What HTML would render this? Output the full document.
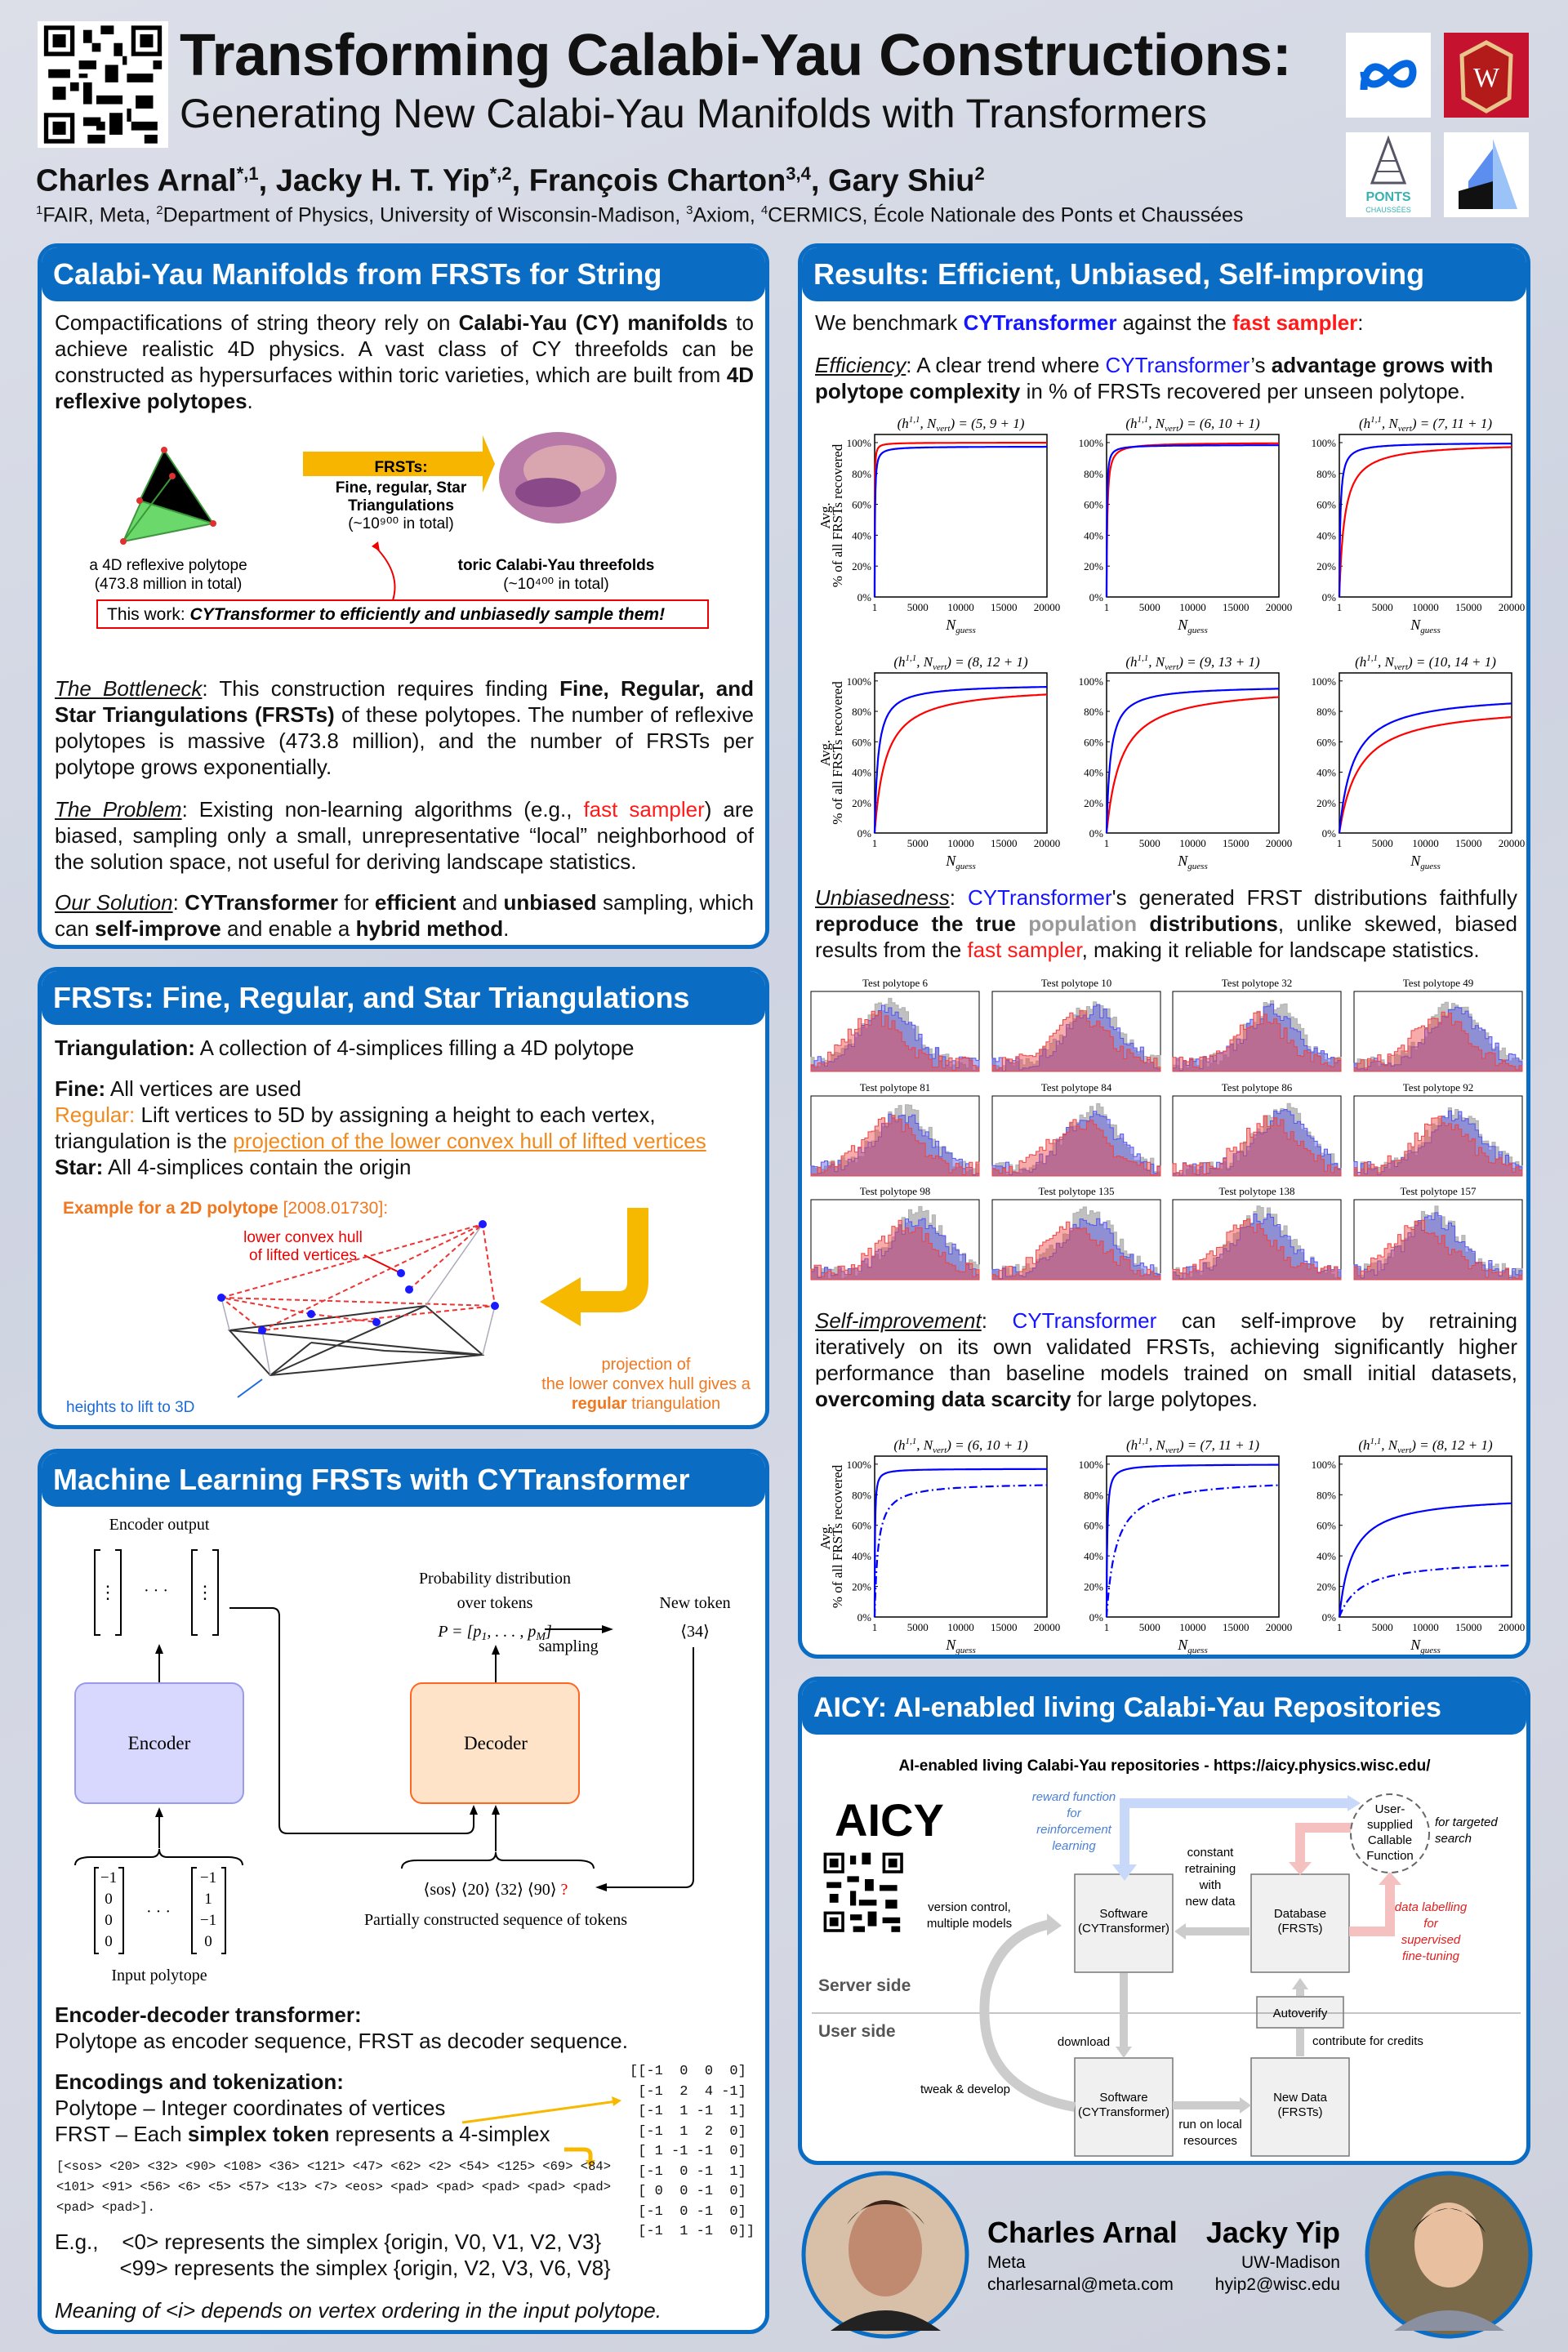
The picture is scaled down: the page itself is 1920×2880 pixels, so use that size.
<!DOCTYPE html>
<html><head><meta charset="utf-8">
<style>
*{margin:0;padding:0;box-sizing:border-box}
body{width:1920px;height:2880px;position:relative;overflow:hidden;background:linear-gradient(160deg,#dcdfe8 0%,#cfd4e2 40%,#d6d9e4 70%,#cdd1dc 100%);font-family:"Liberation Sans",Arial,sans-serif;color:#111}
.a{position:absolute}
.panel{position:absolute;background:#fff;border:5px solid #0a6cc2;border-radius:24px;overflow:hidden}
.hd{position:absolute;left:0;top:0;right:0;background:#0a6cc2;color:#fff;font-weight:bold;font-size:36px;padding-left:14px;border-radius:0 0 18px 18px}
.t{position:absolute;font-size:26px;line-height:32px;text-align:justify}
.blue{color:#1515ff}.red{color:#ff1a1a}.or{color:#f07820}
.mono{font-family:"Liberation Mono",monospace}
u{text-decoration:underline}
</style></head><body>
<!-- Header -->
<div class="a" style="left:46px;top:26px;width:160px;height:155px;background:#fff">
<svg width="160" height="155" viewBox="0 0 29 29"><rect width="29" height="29" fill="#fff"/><g fill="#000"><rect x="1" y="1" width="7" height="7"/><rect x="21" y="1" width="7" height="7"/><rect x="1" y="21" width="7" height="7"/></g><g fill="#fff"><rect x="2" y="2" width="5" height="5"/><rect x="22" y="2" width="5" height="5"/><rect x="2" y="22" width="5" height="5"/></g><g fill="#000"><rect x="3" y="3" width="3" height="3"/><rect x="23" y="3" width="3" height="3"/><rect x="3" y="23" width="3" height="3"/><rect x="10" y="2" width="2" height="3"/><rect x="14" y="1" width="3" height="2"/><rect x="9" y="9" width="4" height="2"/><rect x="15" y="10" width="3" height="4"/><rect x="2" y="11" width="5" height="2"/><rect x="20" y="12" width="6" height="2"/><rect x="10" y="14" width="2" height="5"/><rect x="13" y="17" width="6" height="2"/><rect x="22" y="17" width="4" height="3"/><rect x="10" y="22" width="4" height="2"/><rect x="16" y="21" width="3" height="5"/><rect x="21" y="23" width="6" height="2"/><rect x="11" y="26" width="4" height="2"/><rect x="3" y="15" width="3" height="3"/><rect x="24" y="26" width="3" height="2"/><rect x="12" y="5" width="2" height="2"/><rect x="17" y="5" width="2" height="3"/><rect x="9" y="12" width="2" height="1"/><rect x="19" y="8" width="1" height="2"/><rect x="7" y="14" width="2" height="2"/><rect x="13" y="23" width="2" height="2"/><rect x="20" y="20" width="1" height="3"/><rect x="26" y="9" width="2" height="2"/></g></svg></div>
<div class="a" style="left:220px;top:28px;font-size:72px;font-weight:bold;line-height:80px;letter-spacing:-0.5px">Transforming Calabi-Yau Constructions:</div>
<div class="a" style="left:220px;top:110px;font-size:50px;line-height:58px">Generating New Calabi-Yau Manifolds with Transformers</div>
<div class="a" style="left:44px;top:190px;font-size:38px;font-weight:bold;line-height:46px">Charles Arnal<sup style="font-size:22px">*,1</sup>, Jacky H. T. Yip<sup style="font-size:22px">*,2</sup>, François Charton<sup style="font-size:22px">3,4</sup>, Gary Shiu<sup style="font-size:22px">2</sup></div>
<div class="a" style="left:44px;top:242px;font-size:25px;line-height:32px"><sup style="font-size:15px">1</sup>FAIR, Meta, <sup style="font-size:15px">2</sup>Department of Physics, University of Wisconsin-Madison, <sup style="font-size:15px">3</sup>Axiom, <sup style="font-size:15px">4</sup>CERMICS, École Nationale des Ponts et Chaussées</div>
<div class="a" style="left:1648px;top:40px;width:104px;height:104px;background:#fff"><svg width="104" height="104"><path d="M22 70 C22 40,38 34,52 52 C66 70,82 64,82 48 C82 32,66 36,52 52 C38 70,22 64,22 48" fill="none" stroke="#0668e1" stroke-width="9"/></svg></div>
<div class="a" style="left:1768px;top:40px;width:104px;height:104px;background:#c5122f"><svg width="104" height="104"><path d="M52 12 L82 28 L80 80 L52 96 L24 80 L22 28Z" fill="#b31b1b" stroke="#e8c58a" stroke-width="5"/><text x="52" y="66" font-size="34" font-family="Liberation Serif" fill="#fff" text-anchor="middle">W</text></svg></div>
<div class="a" style="left:1648px;top:162px;width:104px;height:104px;background:#fff"><svg width="104" height="104"><path d="M52 8 L72 62 L32 62Z" fill="none" stroke="#556" stroke-width="3"/><path d="M42 35 L62 35 M37 48 L67 48" stroke="#556" stroke-width="2"/><text x="52" y="84" font-size="16" fill="#3ab0b0" text-anchor="middle" font-weight="bold">PONTS</text><text x="52" y="98" font-size="9" fill="#3ab0b0" text-anchor="middle">CHAUSSÉES</text></svg></div>
<div class="a" style="left:1768px;top:162px;width:104px;height:104px;background:#fff"><svg width="104" height="104"><path d="M60 8 L90 94 L60 94Z" fill="#9cc3f7"/><path d="M30 60 L60 20 L60 94 L30 94Z" fill="#5c8ef0"/><path d="M18 72 L60 60 L60 94 L18 94Z" fill="#111"/></svg></div>

<!-- Left panel 1 -->
<div class="panel" style="left:46px;top:298px;width:896px;height:864px">
<div class="hd" style="height:66px;line-height:66px">Calabi-Yau Manifolds from FRSTs for String</div>
<div class="t" style="left:16px;top:76px;width:856px">Compactifications of string theory rely on <b>Calabi-Yau (CY) manifolds</b> to achieve realistic 4D physics. A vast class of CY threefolds can be constructed as hypersurfaces within toric varieties, which are built from <b>4D reflexive polytopes</b>.</div>
<svg class="a" style="left:0;top:220px" width="890" height="300">
<polygon points="150,28 100,140 210,118 160,60" fill="#5bd45b" stroke="#2a8a2a" stroke-width="2" opacity=".9"/>
<path d="M150 28 L210 118 M160 60 L100 140 M150 28 L120 90 L210 118" stroke="#3a9a3a" stroke-width="2"/>
<g fill="#e03030"><circle cx="150" cy="28" r="4"/><circle cx="100" cy="140" r="4"/><circle cx="210" cy="118" r="4"/><circle cx="160" cy="60" r="4"/><circle cx="120" cy="90" r="4"/></g>
<polygon points="320,30 540,30 540,10 555,45 540,80 540,60 320,60" fill="#f7b500"/>
<text x="440" y="55" font-size="19" font-weight="bold" text-anchor="middle">FRSTs:</text>
<text x="440" y="80" font-size="19" font-weight="bold" text-anchor="middle">Fine, regular, Star</text>
<text x="440" y="102" font-size="19" font-weight="bold" text-anchor="middle">Triangulations</text>
<text x="440" y="124" font-size="19" text-anchor="middle">(~10⁹⁰⁰ in total)</text>
<ellipse cx="632" cy="62" rx="72" ry="56" fill="#b878a8"/><ellipse cx="640" cy="52" rx="50" ry="30" fill="#d9a6b0"/><ellipse cx="620" cy="80" rx="40" ry="18" fill="#8a4a8a"/>
<text x="155" y="175" font-size="19" text-anchor="middle">a 4D reflexive polytope</text>
<text x="155" y="198" font-size="19" text-anchor="middle">(473.8 million in total)</text>
<text x="630" y="175" font-size="19" font-weight="bold" text-anchor="middle">toric Calabi-Yau threefolds</text>
<text x="630" y="198" font-size="19" text-anchor="middle">(~10⁴⁰⁰ in total)</text>
<path d="M430 212 Q440 180 410 148" fill="none" stroke="#e00" stroke-width="2"/><path d="M404 146 L412 140 L414 152Z" fill="#e00"/>
<rect x="68" y="212" width="748" height="34" fill="none" stroke="#e00" stroke-width="2"/>
<text x="80" y="236" font-size="21">This work: <tspan font-weight="bold" font-style="italic">CYTransformer to efficiently and unbiasedly sample them!</tspan></text>
</svg>
<div class="t" style="left:16px;top:524px;width:856px"><i><u>The Bottleneck</u></i>: This construction requires finding <b>Fine, Regular, and Star Triangulations (FRSTs)</b> of these polytopes. The number of reflexive polytopes is massive (473.8 million), and the number of FRSTs per polytope grows exponentially.</div>
<div class="t" style="left:16px;top:672px;width:856px"><i><u>The Problem</u></i>: Existing non-learning algorithms (e.g., <span class="red">fast sampler</span>) are biased, sampling only a small, unrepresentative “local” neighborhood of the solution space, not useful for deriving landscape statistics.</div>
<div class="t" style="left:16px;top:786px;width:856px"><i><u>Our Solution</u></i>: <b>CYTransformer</b> for <b>efficient</b> and <b>unbiased</b> sampling, which can <b>self-improve</b> and enable a <b>hybrid method</b>.</div>
</div>

<!-- Left panel 2 -->
<div class="panel" style="left:46px;top:1184px;width:896px;height:566px">
<div class="hd" style="height:66px;line-height:66px">FRSTs: Fine, Regular, and Star Triangulations</div>
<div class="t" style="left:16px;top:78px;width:860px;text-align:left"><b>Triangulation:</b> A collection of 4-simplices filling a 4D polytope</div>
<div class="t" style="left:16px;top:128px;width:860px;text-align:left"><b>Fine:</b> All vertices are used<br><span style="color:#f08a1c">Regular:</span> Lift vertices to 5D by assigning a height to each vertex, triangulation is the <u style="color:#f08a1c">projection of the lower convex hull of lifted vertices</u><br><b>Star:</b> All 4-simplices contain the origin</div>
<svg class="a" style="left:0;top:270px" width="890" height="290">
<text x="26" y="27" font-size="21" fill="#f07820" font-weight="bold">Example for a 2D polytope <tspan font-weight="normal">[2008.01730]:</tspan></text>
<path d="M730 20 L730 110 Q730 135 705 135 L640 135" fill="none" stroke="#f7b800" stroke-width="26"/><path d="M660 105 L610 135 L660 165Z" fill="#f7b800"/>
<text x="320" y="62" font-size="19" fill="#e00" text-anchor="middle">lower convex hull</text><text x="320" y="84" font-size="19" fill="#e00" text-anchor="middle">of lifted vertices</text>
<path d="M395 78 L440 100" stroke="#e00" stroke-width="2"/>
<g stroke="#333" stroke-width="2" fill="none"><path d="M230 170 L470 140 L540 200 L280 225Z"/><path d="M230 170 L540 200 M280 225 L470 140 M330 185 L420 195 M330 185 L280 225 M420 195 L540 200"/></g>
<g stroke="#e33" stroke-width="2" stroke-dasharray="6,4" fill="none"><path d="M220 130 L540 40 L555 140 L270 170Z M220 130 L555 140 M270 170 L540 40 M330 150 L410 160 M330 150 L220 130 M450 120 L540 40"/></g>
<g stroke="#aab" stroke-width="1.5"><path d="M230 170 L220 130 M470 140 L540 40 M540 200 L555 140 M280 225 L270 170"/></g>
<g fill="#1a1aff"><circle cx="220" cy="130" r="5"/><circle cx="540" cy="40" r="5"/><circle cx="555" cy="140" r="5"/><circle cx="270" cy="170" r="5"/><circle cx="330" cy="150" r="5"/><circle cx="410" cy="160" r="5"/><circle cx="450" cy="120" r="5"/><circle cx="440" cy="100" r="5"/></g>
<text x="30" y="270" font-size="19" fill="#1a6ad8">heights to lift to 3D</text><path d="M240 252 L270 230" stroke="#1a6ad8" stroke-width="2"/>
<text x="740" y="218" font-size="20" fill="#f07820" text-anchor="middle">projection of</text>
<text x="740" y="242" font-size="20" fill="#f07820" text-anchor="middle">the lower convex hull gives a</text>
<text x="740" y="266" font-size="20" fill="#f07820" text-anchor="middle"><tspan font-weight="bold">regular</tspan> triangulation</text>
</svg>
</div>

<!-- Left panel 3 -->
<div class="panel" style="left:46px;top:1774px;width:896px;height:1084px">
<div class="hd" style="height:66px;line-height:66px">Machine Learning FRSTs with CYTransformer</div>
<svg class="a" style="left:0;top:0" width="886" height="660" font-family="Liberation Serif">
<g font-size="20" text-anchor="middle">
<text x="144" y="94">Encoder output</text>
<text x="555" y="160">Probability distribution</text><text x="555" y="190">over tokens</text>
<text x="555" y="225" font-style="italic">P = [p<tspan font-size="14" dy="4">1</tspan><tspan dy="-4">, . . . , p</tspan><tspan font-size="14" dy="4">M</tspan><tspan dy="-4">]</tspan></text>
<text x="800" y="190">New token</text><text x="800" y="225">⟨34⟩</text><text x="645" y="243">sampling</text>
<text x="144" y="646">Input polytope</text>
<text x="556" y="578">Partially constructed sequence of tokens</text>
<text x="556" y="541">⟨sos⟩  ⟨20⟩  ⟨32⟩  ⟨90⟩  <tspan fill="#e00">?</tspan></text>
<text x="82" y="526" font-size="19">−1</text><text x="82" y="552" font-size="19">0</text><text x="82" y="578" font-size="19">0</text><text x="82" y="604" font-size="19">0</text>
<text x="204" y="526" font-size="19">−1</text><text x="204" y="552" font-size="19">1</text><text x="204" y="578" font-size="19">−1</text><text x="204" y="604" font-size="19">0</text>
<text x="143" y="568">· · ·</text><text x="140" y="175">· · ·</text>
<text x="81" y="178" font-size="22">⋮</text><text x="200" y="178" font-size="22">⋮</text>
</g>
<g stroke="#000" stroke-width="2" fill="none">
<path d="M72 119 L65 119 L65 223 L72 223 M90 119 L97 119 L97 223 L90 223 M191 119 L184 119 L184 223 L191 223 M209 119 L216 119 L216 223 L209 223"/>
<path d="M70 508 L65 508 L65 613 L70 613 M94 508 L100 508 L100 613 L94 613 M190 508 L184 508 L184 613 L190 613 M220 508 L225 508 L225 613 L220 613"/>
<path d="M144 282 L144 243 M144 484 L144 443 M556 282 L556 244 M556 488 L556 440 M529 440 L529 452"/>
<path d="M230 190 L282 190 Q291 190 291 200 L291 456 Q291 466 301 466 L519 466 Q529 466 529 456 L529 450"/>
<path d="M616 216 L690 216"/>
<path d="M798 238 L798 522 Q798 532 788 532 L690 532"/>
<path d="M41 505 Q41 495 60 495 L134 495 Q144 495 144 485 Q144 495 154 495 L228 495 Q246 495 246 505"/>
<path d="M441 509 Q441 499 460 499 L546 499 Q556 499 556 489 Q556 499 566 499 L656 499 Q676 499 676 509"/>
</g>
<g fill="#000"><path d="M144 234 L139 246 L149 246Z M144 434 L139 446 L149 446Z M556 235 L551 247 L561 247Z M556 431 L551 443 L561 443Z M529 431 L524 443 L534 443Z M700 216 L686 211 L686 221Z M678 532 L692 527 L692 537Z"/></g>
<rect x="41" y="282" width="206" height="147" rx="14" fill="#d8d8ff" stroke="#9999ee" stroke-width="2"/>
<text x="144" y="363" font-size="23" text-anchor="middle">Encoder</text>
<rect x="452" y="282" width="206" height="147" rx="14" fill="#ffe3c8" stroke="#ff6622" stroke-width="2"/>
<text x="556" y="363" font-size="23" text-anchor="middle">Decoder</text>
</svg>
<div class="t" style="left:16px;top:672px;width:860px;text-align:left"><b>Encoder-decoder transformer:</b><br>Polytope as encoder sequence, FRST as decoder sequence.</div>
<div class="t" style="left:16px;top:754px;width:860px;text-align:left"><b>Encodings and tokenization:</b><br>Polytope – Integer coordinates of vertices<br>FRST – Each <b>simplex token</b> represents a 4-simplex</div>
<svg class="a" style="left:0;top:760px" width="890" height="120"><path d="M515 60 L704 34" stroke="#f7b800" stroke-width="3"/><path d="M710 33 L698 28 L700 40Z" fill="#f7b800"/><path d="M640 93 L664 93 Q672 93 672 100 L672 108" stroke="#f7b800" stroke-width="5" fill="none"/><path d="M666 106 L678 106 L672 116Z" fill="#f7b800"/></svg>
<div class="a mono" style="left:720px;top:746px;font-size:17px;line-height:24.5px;white-space:pre">[[-1  0  0  0]
 [-1  2  4 -1]
 [-1  1 -1  1]
 [-1  1  2  0]
 [ 1 -1 -1  0]
 [-1  0 -1  1]
 [ 0  0 -1  0]
 [-1  0 -1  0]
 [-1  1 -1  0]]</div>
<div class="a mono" style="left:18px;top:862px;width:700px;font-size:15.5px;line-height:25px">[&lt;sos&gt; &lt;20&gt; &lt;32&gt; &lt;90&gt; &lt;108&gt; &lt;36&gt; &lt;121&gt; &lt;47&gt; &lt;62&gt; &lt;2&gt; &lt;54&gt; &lt;125&gt; &lt;69&gt; &lt;84&gt; &lt;101&gt; &lt;91&gt; &lt;56&gt; &lt;6&gt; &lt;5&gt; &lt;57&gt; &lt;13&gt; &lt;7&gt; &lt;eos&gt; &lt;pad&gt; &lt;pad&gt; &lt;pad&gt; &lt;pad&gt; &lt;pad&gt; &lt;pad&gt; &lt;pad&gt;].</div>
<div class="t" style="left:16px;top:950px;width:860px;text-align:left">E.g.,&nbsp;&nbsp;&nbsp;&nbsp;&lt;0&gt; represents the simplex {origin, V0, V1, V2, V3}<br>&nbsp;&nbsp;&nbsp;&nbsp;&nbsp;&nbsp;&nbsp;&nbsp;&nbsp;&nbsp;&nbsp;&lt;99&gt; represents the simplex {origin, V2, V3, V6, V8}</div>
<div class="t" style="left:16px;top:1034px;width:860px;text-align:left"><i>Meaning of &lt;i&gt; depends on vertex ordering in the input polytope.</i></div>
</div>

<!-- Right panel 1 -->
<div class="panel" style="left:977px;top:298px;width:897px;height:1733px">
<div class="hd" style="height:66px;line-height:66px">Results: Efficient, Unbiased, Self-improving</div>
<div class="t" style="left:16px;top:76px;width:860px;text-align:left">We benchmark <b class="blue">CYTransformer</b> against the <b class="red">fast sampler</b>:</div>
<div class="t" style="left:16px;top:128px;width:860px;text-align:left"><i><u>Efficiency</u></i>: A clear trend where <span class="blue">CYTransformer</span>’s <b>advantage grows with polytope complexity</b> in % of FRSTs recovered per unseen polytope.</div>
<div class="t" style="left:16px;top:780px;width:860px"><i><u>Unbiasedness</u></i>: <span class="blue">CYTransformer</span>'s generated FRST distributions faithfully <b>reproduce the true <span style="color:#999">population</span> distributions</b>, unlike skewed, biased results from the <span class="red">fast sampler</span>, making it reliable for landscape statistics.</div>
<div class="t" style="left:16px;top:1298px;width:860px"><i><u>Self-improvement</u></i>: <span class="blue">CYTransformer</span> can self-improve by retraining iteratively on its own validated FRSTs, achieving significantly higher performance than baseline models trained on small initial datasets, <b>overcoming data scarcity</b> for large polytopes.</div>
<svg id="plots" class="a" style="left:0;top:0" width="887" height="1723" font-family="Liberation Serif"></svg>
</div>

<!-- Right panel 2 -->
<div class="panel" style="left:977px;top:2053px;width:897px;height:598px">
<div class="hd" style="height:66px;line-height:66px;font-size:34px">AICY: AI-enabled living Calabi-Yau Repositories</div>
<svg class="a" style="left:0;top:0" width="887" height="590">
<text x="444" y="110" font-size="19" font-weight="bold" text-anchor="middle">AI-enabled living Calabi-Yau repositories - https://aicy.physics.wisc.edu/</text>
<text x="40" y="190" font-size="56" font-weight="bold">AICY</text>
<g transform="translate(23,207) scale(3.6)"><rect width="29" height="29" fill="#fff"/><g fill="#000"><rect x="1" y="1" width="7" height="7"/><rect x="21" y="1" width="7" height="7"/><rect x="1" y="21" width="7" height="7"/></g><g fill="#fff"><rect x="2" y="2" width="5" height="5"/><rect x="22" y="2" width="5" height="5"/><rect x="2" y="22" width="5" height="5"/></g><g fill="#000"><rect x="3" y="3" width="3" height="3"/><rect x="23" y="3" width="3" height="3"/><rect x="3" y="23" width="3" height="3"/><rect x="10" y="2" width="2" height="3"/><rect x="14" y="1" width="3" height="4"/><rect x="9" y="9" width="4" height="2"/><rect x="15" y="10" width="3" height="4"/><rect x="2" y="11" width="5" height="2"/><rect x="20" y="12" width="6" height="2"/><rect x="10" y="14" width="2" height="5"/><rect x="13" y="17" width="6" height="2"/><rect x="22" y="17" width="4" height="3"/><rect x="10" y="22" width="4" height="2"/><rect x="16" y="21" width="3" height="5"/><rect x="21" y="23" width="6" height="2"/><rect x="11" y="26" width="4" height="2"/><rect x="3" y="15" width="3" height="3"/><rect x="24" y="26" width="3" height="2"/></g></g>
<g fill="#f0f0f0" stroke="#777" stroke-width="1.5"><rect x="334" y="237" width="120" height="120"/><rect x="550" y="237" width="120" height="120"/><rect x="334" y="462" width="120" height="120"/><rect x="550" y="462" width="120" height="120"/><rect x="557" y="387" width="106" height="38"/></g>
<line x1="12" y1="407" x2="880" y2="407" stroke="#888"/>
<text x="20" y="380" font-size="21" font-weight="bold" fill="#555">Server side</text>
<text x="20" y="436" font-size="21" font-weight="bold" fill="#555">User side</text>
<path d="M395 235 L395 150 L670 150" fill="none" stroke="#c8d8f8" stroke-width="12"/><path d="M380 225 L410 225 L395 245Z M668 140 L668 160 L684 150Z" fill="#c8d8f8"/>
<path d="M675 180 L610 180 L610 225" fill="none" stroke="#f4c0c0" stroke-width="12"/><path d="M596 222 L624 222 L610 238Z" fill="#f4c0c0"/>
<path d="M670 307 L720 307 L720 248" fill="none" stroke="#f4c0c0" stroke-width="12"/><path d="M706 250 L734 250 L720 234Z" fill="#f4c0c0"/>
<path d="M548 307 L466 307" stroke="#ccc" stroke-width="10"/><path d="M470 297 L470 317 L456 307Z" fill="#ccc"/>
<path d="M394 358 L394 450 M610 460 L610 426 M610 386 L610 376 M454 520 L538 520" stroke="#ccc" stroke-width="10"/>
<path d="M384 448 L404 448 L394 462Z M600 378 L620 378 L610 364Z M536 510 L536 530 L550 520Z" fill="#ccc"/>
<path d="M334 522 Q210 500 225 380 Q240 310 305 298" fill="none" stroke="#ccc" stroke-width="12"/><path d="M300 285 L318 300 L300 312Z" fill="#ccc"/>
<circle cx="720" cy="187" r="48" fill="#fff" stroke="#666" stroke-width="2" stroke-dasharray="8,5"/>
<g font-size="15" text-anchor="middle"><text x="394" y="290">Software</text><text x="394" y="308">(CYTransformer)</text><text x="610" y="290">Database</text><text x="610" y="308">(FRSTs)</text>
<text x="394" y="515">Software</text><text x="394" y="533">(CYTransformer)</text><text x="610" y="515">New Data</text><text x="610" y="533">(FRSTs)</text><text x="610" y="412">Autoverify</text>
<text x="500" y="215">constant</text><text x="500" y="235">retraining</text><text x="500" y="255">with</text><text x="500" y="275">new data</text>
<text x="205" y="282">version control,</text><text x="205" y="302">multiple models</text>
<text x="345" y="447">download</text><text x="200" y="505">tweak &amp; develop</text><text x="500" y="548">run on local</text><text x="500" y="568">resources</text>
<text x="625" y="446" text-anchor="start">contribute for credits</text>
<g fill="#4a80d8" font-style="italic"><text x="333" y="147">reward function</text><text x="333" y="167">for</text><text x="333" y="187">reinforcement</text><text x="333" y="207">learning</text></g>
<g fill="#e02020" font-style="italic"><text x="770" y="282">data labelling</text><text x="770" y="302">for</text><text x="770" y="322">supervised</text><text x="770" y="342">fine-tuning</text></g>
<g font-style="italic" text-anchor="start"><text x="775" y="178">for targeted</text><text x="775" y="198">search</text></g>
<text x="720" y="162">User-</text><text x="720" y="181">supplied</text><text x="720" y="200">Callable</text><text x="720" y="219">Function</text></g>
</svg>
</div>

<!-- Persons -->
<svg class="a" style="left:977px;top:2654px" width="943" height="226">
<circle cx="107" cy="107" r="100" fill="#d8c0a8" stroke="#0a6cc2" stroke-width="5"/><ellipse cx="107" cy="100" rx="45" ry="58" fill="#c08a70"/><path d="M60 70 Q107 10 155 70 Q140 45 107 45 Q75 45 60 70Z" fill="#3a2418"/><path d="M40 200 Q107 150 175 200" fill="#222"/>
<circle cx="797" cy="107" r="100" fill="#7a6a4a" stroke="#0a6cc2" stroke-width="5"/><ellipse cx="797" cy="95" rx="42" ry="52" fill="#e8c0a0"/><path d="M752 80 Q797 20 842 80 Q830 55 797 50 Q765 55 752 80Z" fill="#1a1a1a"/><path d="M730 200 Q797 150 865 200" fill="#8a90a0"/>
<text x="232" y="92" font-size="36" font-weight="bold">Charles Arnal</text>
<text x="232" y="123" font-size="21">Meta</text><text x="232" y="150" font-size="21">charlesarnal@meta.com</text>
<text x="664" y="92" font-size="36" font-weight="bold" text-anchor="end">Jacky Yip</text>
<text x="664" y="123" font-size="21" text-anchor="end">UW-Madison</text><text x="664" y="150" font-size="21" text-anchor="end">hyip2@wisc.edu</text>
</svg>

<script>
(function(){
var svg=document.getElementById('plots');var h='';
var X0=[89,373,658],W=211;
function plot(px,py,ph,title,curves,ylab){
 var s='<text x="'+(px+W/2)+'" y="'+(py-8)+'" font-size="17" text-anchor="middle" font-style="italic">('+title[0]+'<tspan font-size="11" dy="-7">1,1</tspan><tspan dy="7">, N</tspan><tspan font-size="11" dy="4">vert</tspan><tspan dy="-4">) = ('+title[1]+')</tspan></text>';
 s+='<rect x="'+px+'" y="'+py+'" width="'+W+'" height="'+ph+'" fill="#fff" stroke="#000" stroke-width="1.5"/>';
 var top=py+ph*0.05,bot=py+ph;
 for(var i=0;i<=5;i++){var y=bot-(bot-top)*i/5;s+='<text x="'+(px-4)+'" y="'+(y+5)+'" font-size="13" text-anchor="end">'+(i*20)+'%</text><line x1="'+px+'" x2="'+(px+4)+'" y1="'+y+'" y2="'+y+'" stroke="#000"/>';}
 var xt=[1,5000,10000,15000,20000];xt.forEach(function(v){var x=px+W*v/20000;s+='<text x="'+x+'" y="'+(bot+17)+'" font-size="13" text-anchor="middle">'+v+'</text>';});
 s+='<text x="'+(px+W/2)+'" y="'+(bot+40)+'" font-size="18" font-style="italic" text-anchor="middle">N<tspan font-size="11" dy="4">guess</tspan></text>';
 if(ylab){s+='<text transform="translate('+(px-55)+','+(py+ph/2)+') rotate(-90)" font-size="17" text-anchor="middle">Avg.</text><text transform="translate('+(px-40)+','+(py+ph/2)+') rotate(-90)" font-size="17" text-anchor="middle">% of all FRSTs recovered</text>';}
 curves.forEach(function(c){var d='';for(var k=0;k<=200;k++){var t=20000*Math.pow(k/200,2);var v=c[1]*t/(t+c[2]);d+=(k?'L':'M')+(px+W*t/20000).toFixed(1)+' '+(bot-(bot-top)*v/100).toFixed(1);}
 s+='<path d="'+d+'" fill="none" stroke="'+c[0]+'" stroke-width="2.2"'+(c[3]?' stroke-dasharray="10,4,2,4"':'')+'/>';});
 return s;}
var R1=[['5, 9 + 1',[['red',100,15],['blue',97.5,40]]],['6, 10 + 1',[['red',100,90],['blue',98.5,40]]],['7, 11 + 1',[['red',100,600],['blue',100,120]]]];
var R2=[['8, 12 + 1',[['red',97,1300],['blue',98,400]]],['9, 13 + 1',[['red',97,1700],['blue',97,450]]],['10, 14 + 1',[['red',85,2300],['blue',92,1600]]]];
var R3=[['6, 10 + 1',[['blue',97,40],['blue',88,400,1]]],['7, 11 + 1',[['blue',100,80],['blue',91,1100,1]]],['8, 12 + 1',[['blue',80,1500],['blue',38,2500,1]]]];
R1.forEach(function(r,i){h+=plot(X0[i],229,199,['h',r[0]],r[1],i==0);});
R2.forEach(function(r,i){h+=plot(X0[i],521,196,['h',r[0]],r[1],i==0);});
R3.forEach(function(r,i){h+=plot(X0[i],1480,197,['h',r[0]],r[1],i==0);});
var seed=7;function rnd(){seed=(seed*16807)%2147483647;return seed/2147483647;}
var HX=[11,233,454,676],HY=[911,1039,1166],HW=206,HH=98;
var names=[6,10,32,49,81,84,86,92,98,135,138,157];
for(var r=0;r<3;r++)for(var c=0;c<4;c++){var x0=HX[c],y0=HY[r],n=names[r*4+c];
 h+='<text x="'+(x0+HW/2)+'" y="'+(y0-6)+'" font-size="13" text-anchor="middle">Test polytope '+n+'</text>';
 h+='<rect x="'+x0+'" y="'+y0+'" width="'+HW+'" height="'+HH+'" fill="#fff" stroke="#000"/>';
 var nb=50,bw=HW/nb,mu=0.45+rnd()*0.2;
 ['#b0b0b0','#5555ee','#ee4444'].forEach(function(col,ci){var d='M'+x0+' '+(y0+HH);var sh=ci==2?-0.08:0;
  for(var b=0;b<nb;b++){var u=b/nb;var v=Math.exp(-Math.pow((u-mu-sh)/0.22,2))*(0.75-ci*0.08)+rnd()*0.18;v=Math.min(v,0.95);var y=y0+HH-HH*v;d+='L'+(x0+b*bw).toFixed(1)+' '+y.toFixed(1)+'L'+(x0+(b+1)*bw).toFixed(1)+' '+y.toFixed(1);}
  d+='L'+(x0+HW)+' '+(y0+HH)+'Z';h+='<path d="'+d+'" fill="'+col+'" fill-opacity="'+(ci==0?0.8:0.45)+'" stroke="'+col+'" stroke-width="1"/>';});
}
svg.innerHTML=h;})();
</script>
</body></html>
